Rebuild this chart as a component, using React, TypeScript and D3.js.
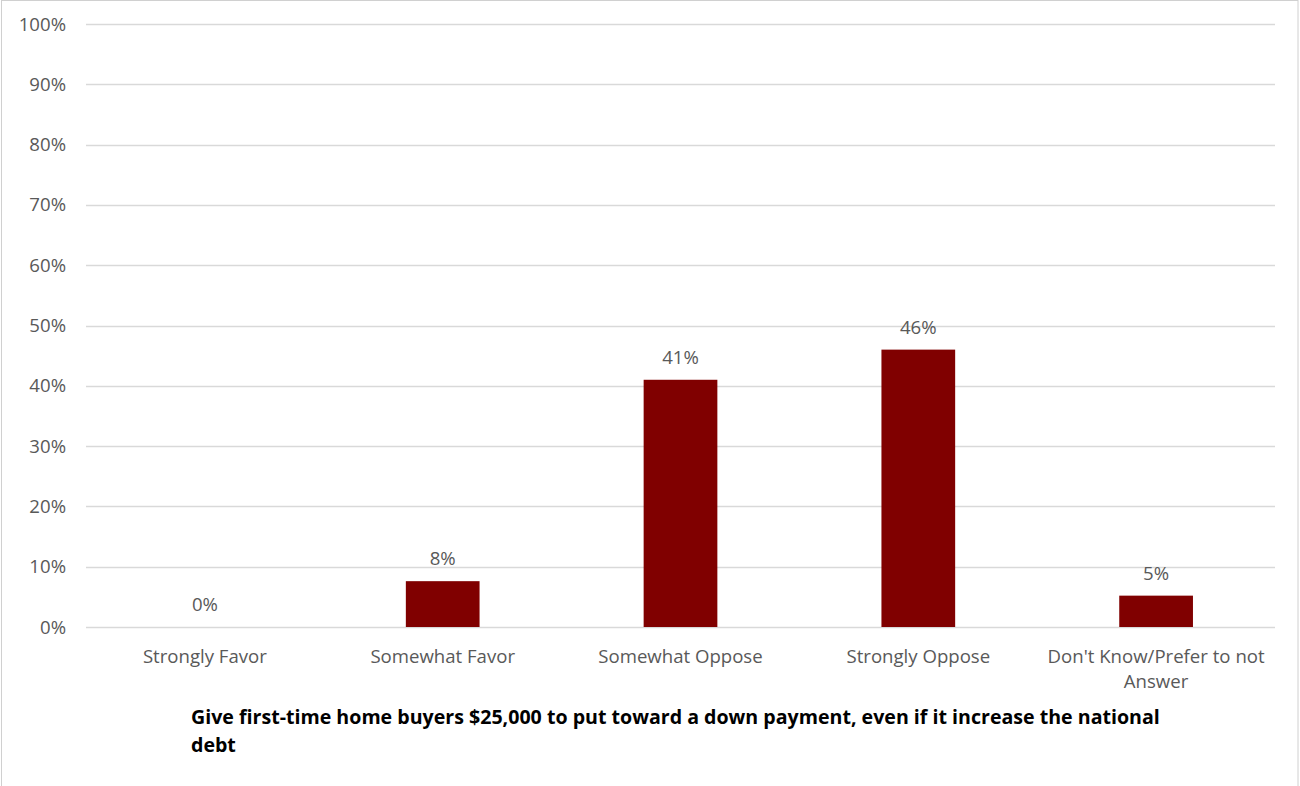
import React from "react";
import * as d3 from "d3";

const categories = ["Strongly Favor", "Somewhat Favor", "Somewhat Oppose", "Strongly Oppose", "Don't Know/Prefer to not Answer"];
const categoryLines = [["Strongly Favor"], ["Somewhat Favor"], ["Somewhat Oppose"], ["Strongly Oppose"], ["Don't Know/Prefer to not", "Answer"]];
const values = [0, 7.6, 41, 46, 5.2];
const valueLabels = ["0%", "8%", "41%", "46%", "5%"];
const yTicks = [0, 10, 20, 30, 40, 50, 60, 70, 80, 90, 100];
const titleLines = ["Give first-time home buyers $25,000 to put toward a down payment, even if it increase the national", "debt"];

const W = 1300, H = 786;
const FONT = "'Open Sans', Lato, sans-serif";
const FS = 18.6;

export default function App() {
  const x = d3.scaleBand().domain(categories).range([86, 1275]).paddingInner(0.69).paddingOuter(0.345);
  const y = d3.scaleLinear().domain([0, 100]).range([627, 24]);
  return (
    <svg width={W} height={H} style={{ position: "absolute", left: 0, top: 0, display: "block" }} fontFamily={FONT}>
      <rect x={0} y={0} width={W} height={H} fill="#fff" />
      <rect x={1.5} y={0.5} width={1296.5} height={H + 5} fill="none" stroke="#d0d0d0" strokeWidth={1} />
      {yTicks.map((t) => (
        <g key={t}>
          <line x1={86} x2={1275} y1={Math.round(y(t)) + 0.5} y2={Math.round(y(t)) + 0.5} stroke="#d9d9d9" strokeWidth={1.5} />
          <text x={66} y={y(t)} dy="0.35em" textAnchor="end" fontSize={FS} fill="#595959">{t}%</text>
        </g>
      ))}
      {categories.map((c, i) => (
        <g key={c}>
          {values[i] > 0 && (
            <rect x={x(c)!} y={y(values[i])} width={x.bandwidth()} height={y(0) - y(values[i])} fill="#800000" />
          )}
          <text x={x(c)! + x.bandwidth() / 2} y={y(values[i]) - 16} textAnchor="middle" fontSize={FS} fill="#595959">{valueLabels[i]}</text>
          {categoryLines[i].map((ln, j) => (
            <text key={j} x={x(c)! + x.bandwidth() / 2} y={663 + j * 25} textAnchor="middle" fontSize={FS} fill="#595959">{ln}</text>
          ))}
        </g>
      ))}
      {titleLines.map((ln, j) => (
        <text key={j} x={191} y={724 + j * 28} fontSize={19.6} fontWeight="bold" fill="#000">{ln}</text>
      ))}
    </svg>
  );
}
